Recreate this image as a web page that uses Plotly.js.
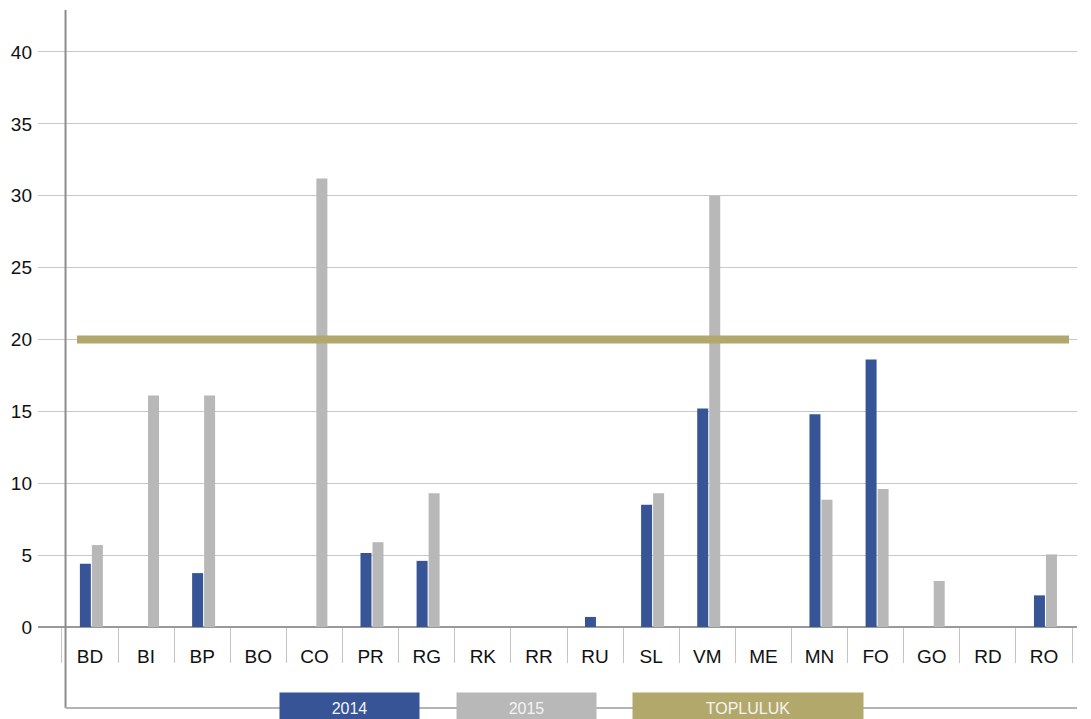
<!DOCTYPE html>
<html>
<head>
<meta charset="utf-8">
<script src="https://cdn.plot.ly/plotly-3.0.1.min.js"></script>
<style>html,body{margin:0;padding:0;background:#fff;}#chart{width:1091px;height:719px;}</style>
</head>
<body>
<div id="chart"></div>
<script>
const categories = ['BD','BI','BP','BO','CO','PR','RG','RK','RR','RU','SL','VM','ME','MN','FO','GO','RD','RO'];
const values2014 = [4.4, null, 3.75, null, null, 5.15, 4.6, null, null, 0.7, 8.5, 15.2, null, 14.8, 18.6, null, null, 2.2];
const values2015 = [5.7, 16.1, 16.1, null, 31.2, 5.9, 9.3, null, null, null, 9.3, 30.0, null, 8.85, 9.6, 3.2, null, 5.05];
const topluluk = [20,20,20,20,20,20,20,20,20,20,20,20,20,20,20,20,20,20];
const seriesNames = ['2014','2015','TOPLULUK'];
const yTicks = [0,5,10,15,20,25,30,35,40];

const colors = ['#375596','#b8b8b8','#b3a86b'];
const font = 'Liberation Sans, Arial, Helvetica, sans-serif';

const traces = [
  {type:'bar', name:seriesNames[0], x:categories, y:values2014, marker:{color:colors[0]}, offset:-0.18, width:0.196, hoverinfo:'skip'},
  {type:'bar', name:seriesNames[1], x:categories, y:values2015, marker:{color:colors[1]}, offset:0.034, width:0.196, hoverinfo:'skip'},
  {type:'scatter', mode:'lines', name:seriesNames[2], x:categories.map((c,i)=>i), y:topluluk, xaxis:'x2', line:{color:colors[2], width:8}, hoverinfo:'skip'}
];

const legendCenters = [0.2998, 0.4702, 0.6834];
const legendWidths = [139, 139, 230];
const yLine = -(708-627)/617;

const layout = {
  width:1091, height:719,
  margin:{l:38, r:14, t:10, b:92},
  paper_bgcolor:'#fff', plot_bgcolor:'#fff',
  showlegend:false,
  barmode:'overlay',
  font:{family:font, size:19, color:'#111'},
  xaxis:{
    type:'category', range:[-0.926, 17.587], fixedrange:true,
    showgrid:false, showline:false, zeroline:false,
    ticks:'outside', tickson:'boundaries', ticklen:35, tickcolor:'#c4c4c4', tickwidth:1,
    ticklabelstandoff:16,
    tickfont:{family:font, size:19, color:'#111'}
  },
  xaxis2:{overlaying:'x', type:'linear', range:[-0.6683, 17.137], visible:false, fixedrange:true},
  yaxis:{
    range:[0, 42.92], fixedrange:true,
    tickvals:yTicks, ticktext:yTicks.map(String),
    showgrid:true, gridcolor:'#c8c8c8', gridwidth:1,
    zeroline:true, zerolinecolor:'#999999', zerolinewidth:2,
    showline:false, ticks:'', ticklabelstandoff:5,
    tickfont:{family:font, size:19, color:'#111'}
  },
  shapes:[
    {type:'line', xref:'paper', yref:'paper', x0:0.0265, x1:0.0265, y0:yLine, y1:1, line:{color:'#8c8c8c', width:2}},
    {type:'line', xref:'paper', yref:'paper', x0:0.0265, x1:1, y0:yLine, y1:yLine, line:{color:'#b4b4b4', width:2}}
  ],
  annotations: seriesNames.map((n,i)=>({
    xref:'paper', yref:'paper', x:legendCenters[i], y:yLine, xanchor:'center', yanchor:'middle',
    text:n, showarrow:false, width:legendWidths[i], height:30, bgcolor:colors[i], borderpad:0,
    font:{family:font, size:16, color:'#f4f4f4'}
  }))
};

Plotly.newPlot('chart', traces, layout, {displayModeBar:false, staticPlot:true});
</script>
</body>
</html>
